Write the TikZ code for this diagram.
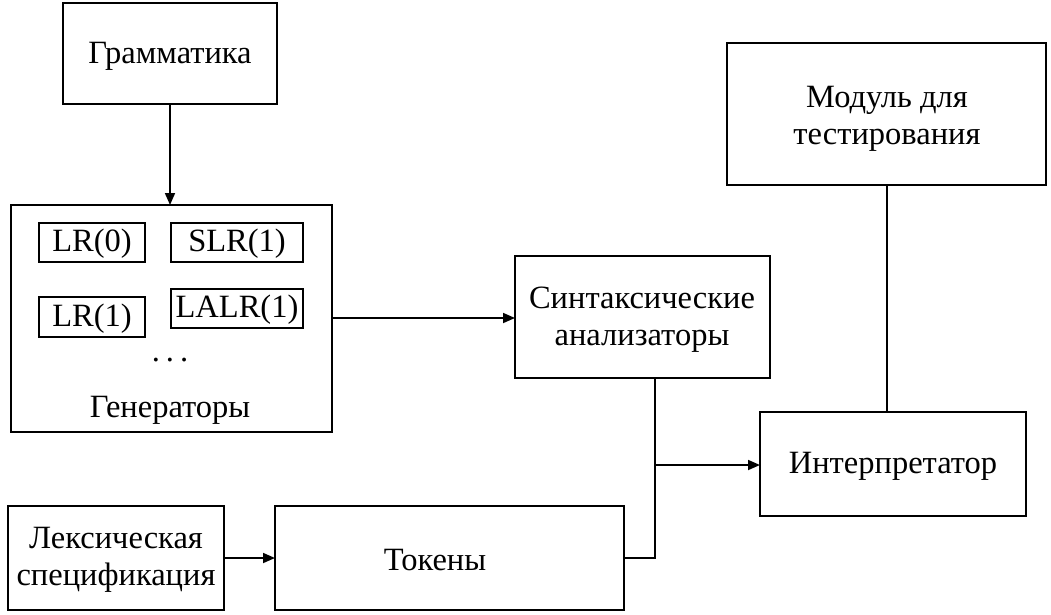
\documentclass[tikz,border=0pt]{standalone}
\usepackage{fontspec}
\setmainfont{Liberation Serif}
\usetikzlibrary{arrows.meta}
\begin{document}
\begin{tikzpicture}[x=1pt,y=-1pt,
  box/.style={draw,line width=1.7pt,inner sep=0pt},
  lbl/.style={font=\fontsize{32.5}{37}\selectfont,align=center},
  conn/.style={line width=1.7pt},
  arr/.style={conn,-{Triangle[length=12pt,width=10pt]}}]
\useasboundingbox (0,0) rectangle (1051,614);
% main boxes
\draw[box] (63,3) rectangle (277,104);
\node[lbl] (gram) at (170,56) {Грамматика};
\coordinate (gramS) at (170,104);
\draw[box] (11,205) rectangle (332,432);
\coordinate (genN) at (170,205);
\coordinate (genE) at (332,318);
\draw[box] (39,223) rectangle (145,262);
\node[lbl] (lr0) at (92,244) {LR(0)};
\draw[box] (171,223) rectangle (303,262);
\node[lbl] (slr) at (237,244) {SLR(1)};
\draw[box] (39,297) rectangle (145,337);
\node[lbl] (lr1) at (92,319) {LR(1)};
\draw[box] (171,289) rectangle (303,328);
\node[lbl] (lalr) at (237,310) {LALR(1)};
\node[lbl] (dots) at (170,360) {.\hspace{6pt}.\hspace{6pt}.};
\node[lbl] (gen) at (170,410) {Генераторы};
\draw[box] (515,256) rectangle (770,378);
\node[lbl] (synt) at (642,320) {Синтаксические\\анализаторы};
\coordinate (syntW) at (515,318);
\coordinate (syntS) at (655,378);
\draw[box] (727,43) rectangle (1046,185);
\node[lbl] (mod) at (887,119) {Модуль для\\тестирования};
\coordinate (modS) at (887,185);
\draw[box] (760,412) rectangle (1026,516);
\node[lbl] (interp) at (893,466) {Интерпретатор};
\coordinate (intN) at (887,412);
\coordinate (intW) at (760,465);
\draw[box] (8,506) rectangle (224,610);
\node[lbl] (lex) at (116,560) {Лексическая\\спецификация};
\coordinate (lexE) at (224,558);
\draw[box] (275,506) rectangle (624,610);
\node[lbl] (tok) at (435,560) {Токены};
\coordinate (tokW) at (275,558);
\coordinate (tokE) at (624,558);
\coordinate (jn) at (655,465);
% connectors
\draw[arr] (gramS) -- (genN);
\draw[arr] (genE) -- (syntW);
\draw[conn] (modS) -- (intN);
\draw[conn] (tokE) -| (syntS);
\draw[arr] (jn) -- (intW);
\draw[arr] (lexE) -- (tokW);
\end{tikzpicture}
\end{document}
